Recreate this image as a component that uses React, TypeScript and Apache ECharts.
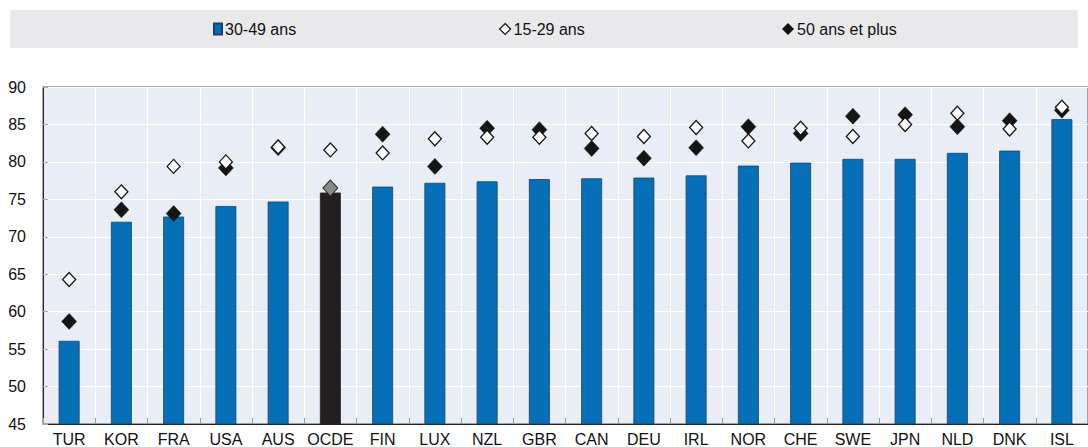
import React, { useEffect, useRef } from "react";
import * as echarts from "echarts";

const categories = ["TUR", "KOR", "FRA", "USA", "AUS", "OCDE", "FIN", "LUX", "NZL", "GBR", "CAN", "DEU", "IRL", "NOR", "CHE", "SWE", "JPN", "NLD", "DNK", "ISL"];
const age3049 = [56.1, 72.0, 72.7, 74.1, 74.7, 75.9, 76.7, 77.2, 77.4, 77.7, 77.8, 77.9, 78.2, 79.5, 79.9, 80.4, 80.4, 81.2, 81.5, 85.7];
const age1529 = [64.3, 76.0, 79.4, 80.0, 82.0, 81.6, 81.2, 83.1, 83.3, 83.3, 83.8, 83.4, 84.6, 82.8, 84.5, 83.4, 85.0, 86.5, 84.4, 87.3];
const age50plus = [58.7, 73.6, 73.1, 79.2, 81.9, 76.5, 83.7, 79.4, 84.5, 84.3, 81.8, 80.5, 81.9, 84.7, 83.8, 86.1, 86.3, 84.7, 85.5, 86.9];
const seriesNames = ["30-49 ans", "15-29 ans", "50 ans et plus"];
const highlight = "OCDE";

const FONT = "'Liberation Sans', Arial, sans-serif";

export default function App() {
  const ref = useRef<HTMLDivElement>(null);
  useEffect(() => {
    document.body.style.margin = "0";
    if (!ref.current) return;
    const chart = echarts.init(ref.current, null, { renderer: "svg" });
    const barData = age3049.map((v, i) =>
      categories[i] === highlight
        ? { value: v, itemStyle: { color: "#231f20", borderColor: "#231f20" } }
        : v
    );
    const filledData = age50plus.map((v, i) =>
      categories[i] === highlight
        ? { value: v, itemStyle: { color: "#8a8a8a", borderColor: "#2a2a2a", borderWidth: 1 } }
        : v
    );
    const textStyle = { fontFamily: FONT, fontSize: 16, color: "#111" };
    const legendBase = {
      top: 21,
      padding: 0,
      itemGap: 0,
      textStyle: { ...textStyle, padding: [0, 0, 0, -2] },
      selectedMode: false,
    };
    chart.setOption({
      animation: false,
      textStyle: { fontFamily: FONT },
      graphic: [
        {
          type: "rect",
          shape: { x: 10, y: 10, width: 1068, height: 38 },
          style: { fill: "#e9e9eb" },
          z: -1,
        },
      ],
      legend: [
        { ...legendBase, left: 213, data: [{ name: seriesNames[0], icon: "rect" }], itemWidth: 8, itemHeight: 11 },
        {
          ...legendBase,
          left: 499,
          data: [{ name: seriesNames[1], icon: "diamond" }],
          itemWidth: 11,
          itemHeight: 11,
          itemStyle: { color: "#ffffff", borderColor: "#111", borderWidth: 1.2, opacity: 1 },
        },
        {
          ...legendBase,
          left: 782,
          data: [{ name: seriesNames[2], icon: "diamond" }],
          itemWidth: 12,
          itemHeight: 12,
          itemStyle: { color: "#111", borderWidth: 0, opacity: 1 },
        },
      ],
      grid: {
        left: 43,
        top: 87,
        bottom: 23,
        right: -12,
        show: true,
        backgroundColor: "#e9edf6",
        borderColor: "#555",
        borderWidth: 1,
      },
      xAxis: {
        type: "category",
        data: categories,
        axisLine: { lineStyle: { color: "#222", width: 1 } },
        axisTick: { show: true, inside: true, length: 6, interval: 0, lineStyle: { color: "#999" } },
        splitLine: { show: true, interval: 0, lineStyle: { color: "#ffffff", width: 1 } },
        axisLabel: { ...textStyle, margin: 7, interval: 0 },
      },
      yAxis: {
        type: "value",
        min: 45,
        max: 90,
        interval: 5,
        axisLine: { show: true, lineStyle: { color: "#222", width: 1 } },
        axisTick: { show: true, inside: true, length: 5, lineStyle: { color: "#aaa" } },
        splitLine: { show: true, lineStyle: { color: "#ffffff", width: 1 } },
        axisLabel: { ...textStyle, margin: 17 },
      },
      series: [
        {
          name: seriesNames[0],
          type: "bar",
          data: barData,
          barWidth: "40%",
          itemStyle: { color: "#0570b8", borderColor: "#1d3f63", borderWidth: 0.8 },
        },
        {
          name: seriesNames[2],
          type: "scatter",
          data: filledData,
          symbol: "diamond",
          symbolSize: [15, 16],
          itemStyle: { color: "#151515", borderColor: "#151515", borderWidth: 0.5, opacity: 1 },
          z: 3,
        },
        {
          name: seriesNames[1],
          type: "scatter",
          data: age1529,
          symbol: "diamond",
          symbolSize: [13, 14],
          itemStyle: { color: "#ffffff", borderColor: "#151515", borderWidth: 1.3, opacity: 1 },
          z: 4,
        },
      ],
    });
    return () => chart.dispose();
  }, []);
  return <div ref={ref} style={{ width: 1088, height: 447 }} />;
}
